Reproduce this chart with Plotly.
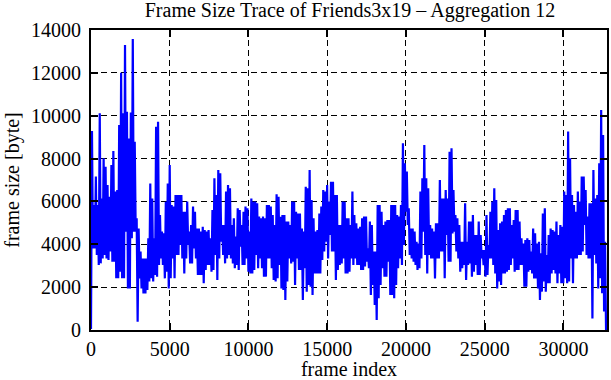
import numpy as np
import plotly.graph_objects as go

# Envelope (upper / lower) of the aggregated frame sizes, read column by column
HI = [9290,5830,7160,5830,10110,6140,8010,7620,6770,6220,7700,8350,6460,6530,9570,12010,10110,13300,10190,8940,10150,13580,8790,5210,4740,3660,3340,3340,3340,4280,6840,6140,4280,9490,9720,5370,4590,4510,5990,6840,7700,5830,5760,6300,
      6300,6300,6300,5520,5520,5990,4590,4900,5760,5520,4740,4740,4590,4820,4670,4590,4670,4280,5600,7080,6300,7470,7310,4900,4900,6460,6770,6610,4900,5210,4360,5680,5600,4900,5520,5760,5680,4590,6140,5990,5990,5910,5290,5210,5290,
      5210,5830,5830,5760,5370,4900,6330,6220,5290,5370,5370,5060,5060,4900,5990,5990,5520,5440,5440,4740,4590,6690,6610,7470,6070,5210,4590,4670,5440,5760,6530,6460,6770,5990,6920,6920,6300,6300,4900,4900,5990,5990,5210,5210,
      4900,6460,5370,4980,4740,4820,5210,5290,5290,3810,5060,4900,3660,3660,5830,5830,5520,4900,5060,5130,5130,5830,5830,5830,5370,5290,5830,8710,7780,7390,5680,4740,4740,4590,4120,4040,6460,7080,8630,7080,6610,4900,4740,4590,4980,
      4980,7000,6140,6140,6530,6140,8320,8480,6530,5370,5210,4900,4120,4120,5910,4120,5060,5060,5370,4430,4430,5060,4430,3730,3730,5370,3970,5520,5990,6610,6070,4670,4980,5060,5370,5600,5680,5680,4900,5130,5600,5600,5060,4280,4040,
      4200,4280,4200,3660,4740,4510,4040,4120,3580,5440,5680,3500,4430,4740,4670,4590,5060,4430,4900,4820,6460,6300,9260,8010,6300,5830,5520,6460,5990,7160,7160,6530,5290,5910,5910,7470,6140,6300,7780,10270,9100,4120]
LO = [3810,3810,3500,3030,3110,3340,3500,3340,3270,3660,3190,3190,2410,2410,2720,2410,2410,4590,1940,1940,4280,4590,4590,390,2410,1940,1710,1710,1870,2260,2410,2260,2570,2490,3030,3340,3030,2410,2720,1940,2410,3340,2410,3500,
      3500,3970,3340,2640,3340,3970,3110,3110,3810,3340,2570,2570,2570,2180,2800,3030,3030,2720,2800,3500,2330,3340,4120,3500,3110,3340,3500,3340,3110,2880,3030,2800,3890,3030,3030,3340,2720,2640,2640,2800,3500,2880,3340,2880,2490,
      2490,3340,3340,2880,2330,2260,2410,3030,1940,1870,1400,2260,3340,3110,3190,2100,3340,2800,2800,1400,2880,1790,2100,2020,1630,2640,2640,2640,2640,3270,3660,4120,3340,4430,3660,3660,2330,2800,3030,3110,3340,2640,2640,2720,
      3340,3030,3340,3030,3030,2800,2800,2960,3190,2880,1630,2100,1170,470,1480,2100,2880,2490,2490,3190,1630,1630,1480,2100,2880,3340,3030,3970,5520,4900,3500,3340,3190,3030,2800,2880,3340,4590,3500,2640,3500,3340,3340,2410,3340,
      3340,3660,3660,2410,4430,3190,3190,4510,4590,3660,3340,2720,2880,3030,2330,3030,3110,2490,2720,3030,2570,2570,3340,3030,2490,2570,3340,3340,3030,2640,1940,2260,2100,2640,2640,2720,2800,3030,3340,2720,2800,2800,3030,3030,2020,
      2020,2720,2800,2640,2410,2410,1940,1400,1790,2260,1790,2180,2180,2640,2800,2640,2180,2640,2180,2180,2410,2180,2260,3340,2180,3340,3340,3500,3500,3660,4900,3500,3340,3340,540,3500,3110,1940,2410,1710,860,50]
FIRST_VALUE = 50
LAST_VALUE = 50
N_FRAMES = 32768

XTICKS = [0, 5000, 10000, 15000, 20000, 25000, 30000]
YTICKS = [0, 2000, 4000, 6000, 8000, 10000, 12000, 14000]

sizes = [FIRST_VALUE]
for h, l in zip(HI, LO):
    sizes += [h, l]
sizes.append(LAST_VALUE)
frames = np.linspace(0, N_FRAMES, len(sizes))

FONT = "'Liberation Serif', 'Times New Roman', 'DejaVu Serif', serif"
FS = 20

fig = go.Figure()
fig.add_trace(go.Scatter(x=frames, y=sizes, mode="lines",
                         line=dict(color="#0000ff", width=2.2), showlegend=False))

axis_common = dict(showline=True, linecolor="black", linewidth=2, mirror="ticks",
                   ticks="inside", ticklen=7, tickwidth=1.5, tickcolor="black",
                   showgrid=True, gridcolor="black", gridwidth=1, griddash="6px,4px",
                   zeroline=False, tickfont=dict(family=FONT, size=FS, color="black"),
                   title_font=dict(family=FONT, size=FS, color="black"))

fig.update_xaxes(range=[0, N_FRAMES], tickvals=XTICKS, ticktext=[str(v) for v in XTICKS],
                 title_text="frame index", title_standoff=0, ticklabelstandoff=0, **axis_common)
fig.update_yaxes(range=[0, 14000], tickvals=YTICKS, ticktext=[str(v) for v in YTICKS],
                 title_text="frame size [byte]", title_standoff=6, ticklabelstandoff=4,
                 **axis_common)

fig.update_layout(
    width=611, height=380,
    margin=dict(l=91, r=2, t=30, b=50),
    paper_bgcolor="white", plot_bgcolor="white",
    title=dict(text="Frame Size Trace of Friends3x19 \u2013 Aggregation 12",
               x=0.5728, xanchor="center", yref="container", y=0.975, yanchor="middle",
               font=dict(family=FONT, size=FS, color="black")),
)

fig.write_html("out.html")
